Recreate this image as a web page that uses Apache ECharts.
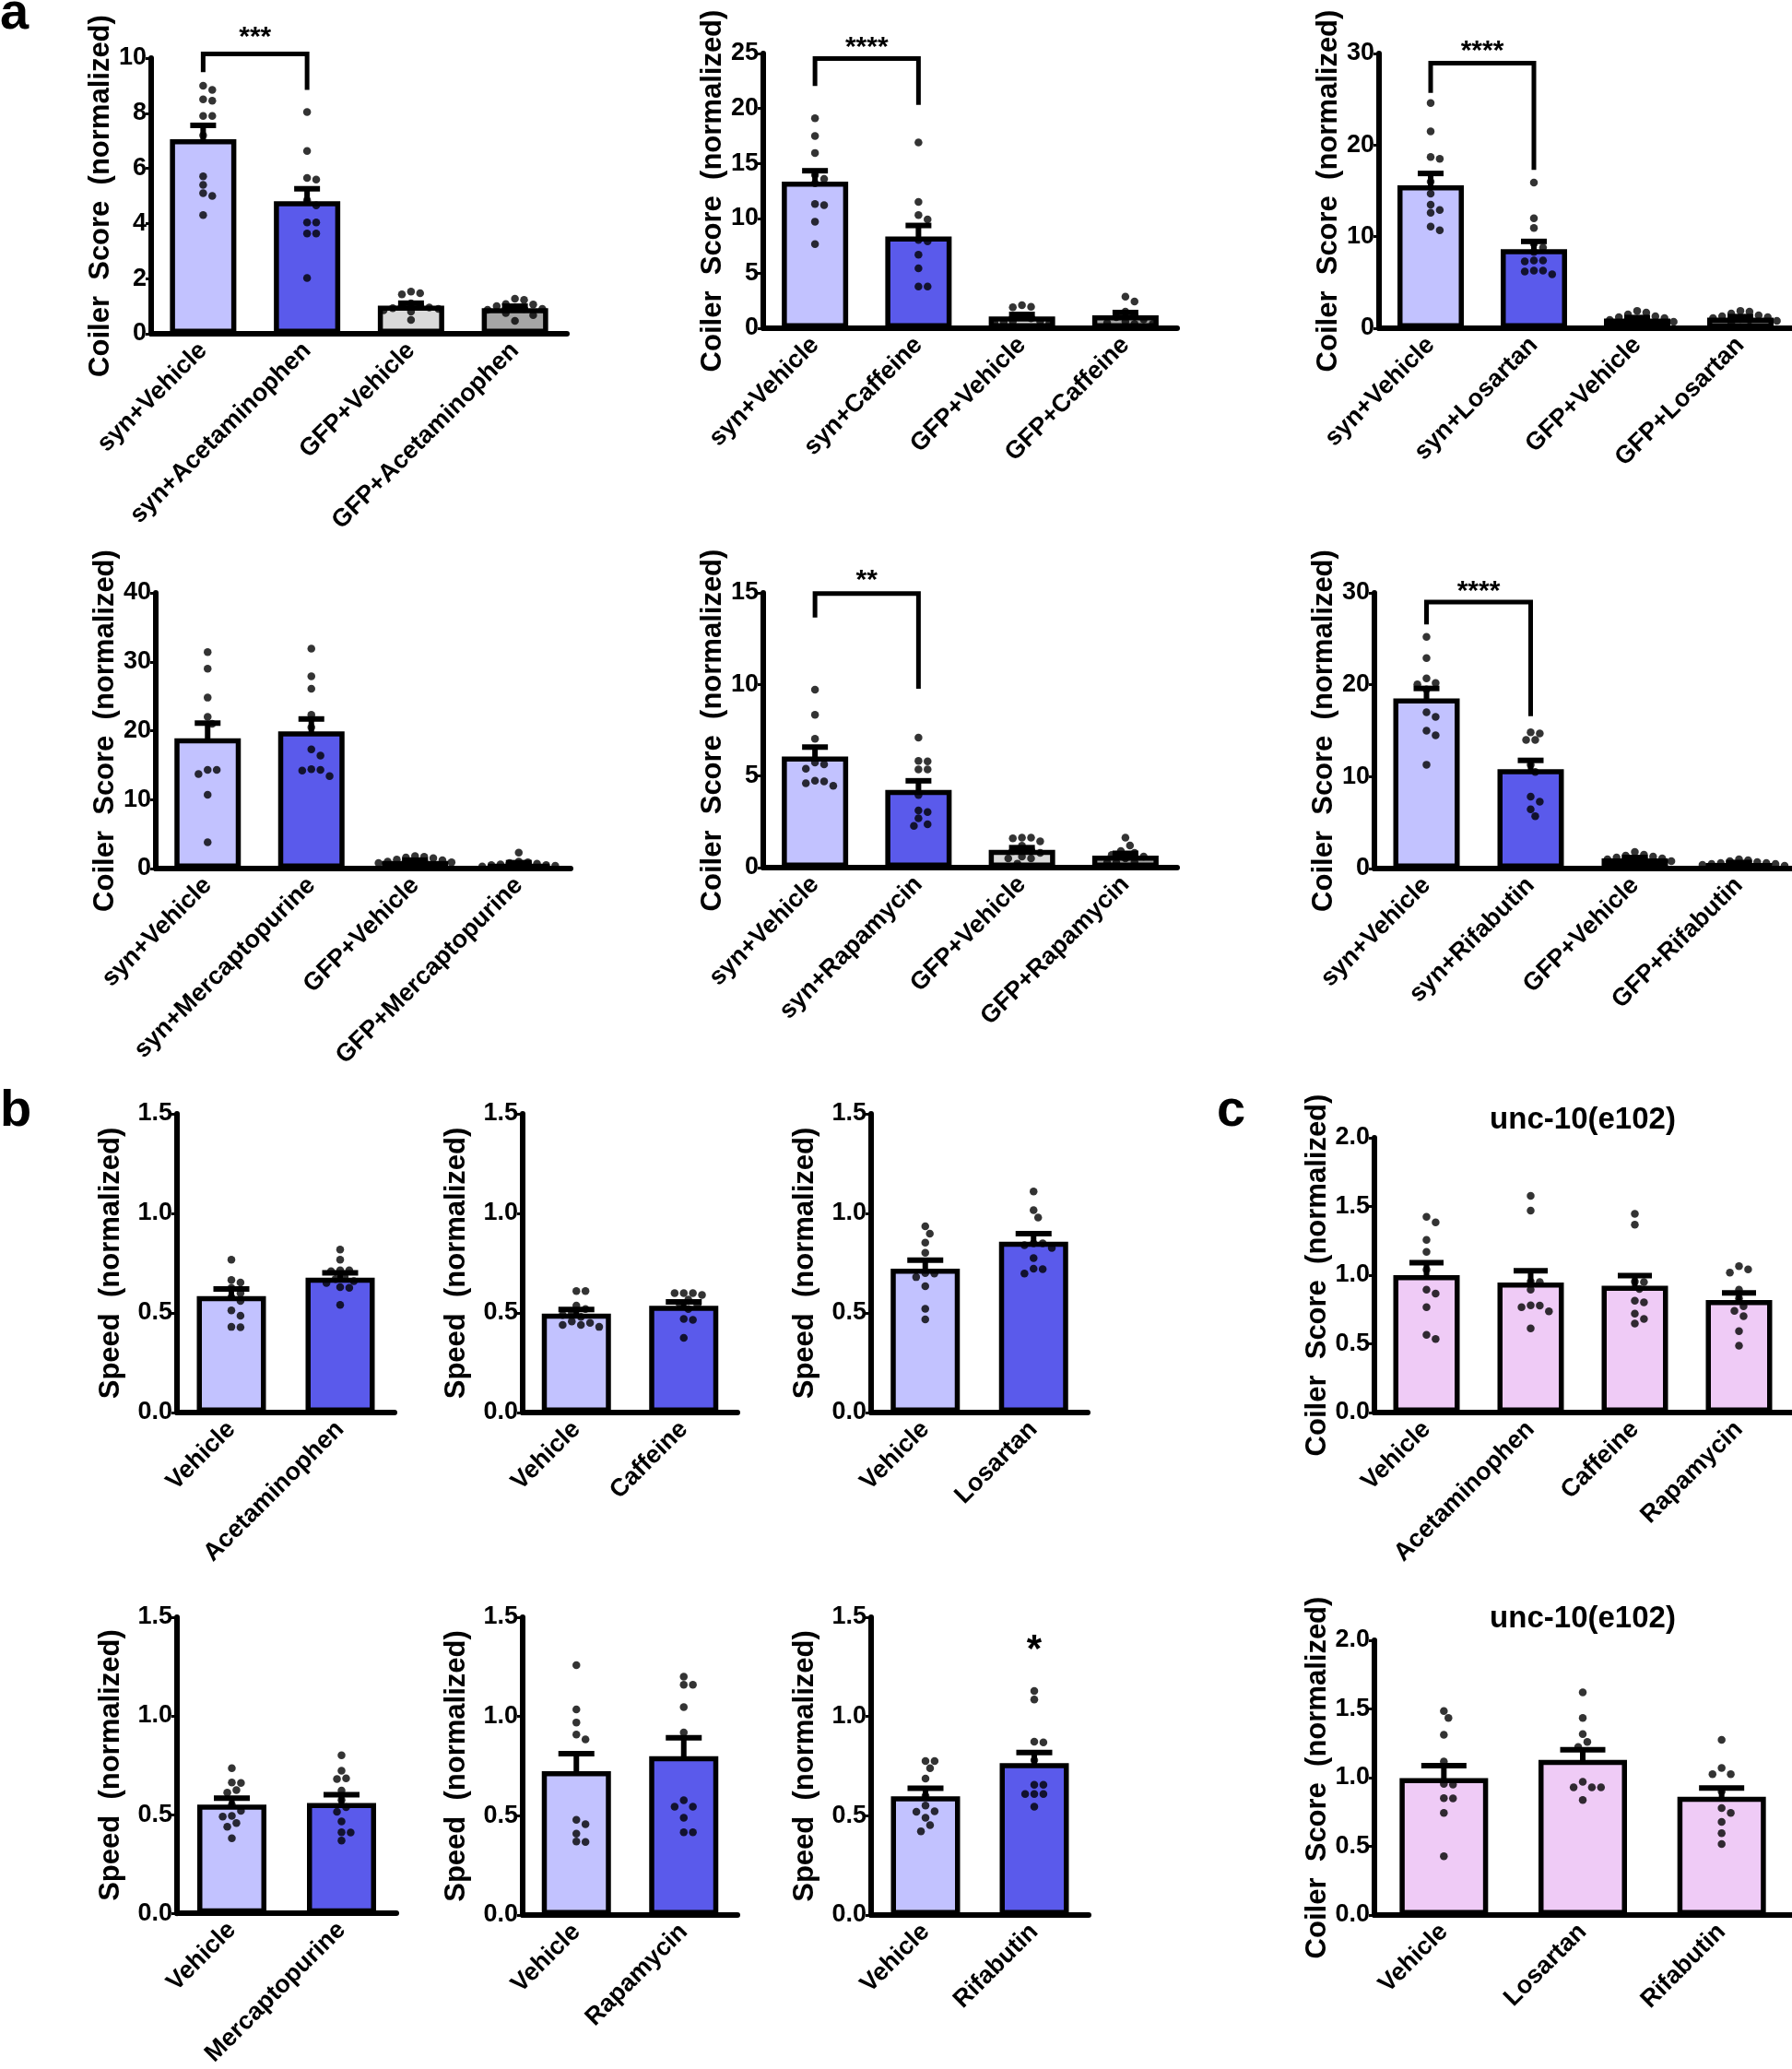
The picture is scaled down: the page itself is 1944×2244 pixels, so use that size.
<!DOCTYPE html>
<html>
<head>
<meta charset="utf-8">
<script src="https://cdn.jsdelivr.net/npm/echarts@6/dist/echarts.min.js"></script>
<style>html,body{margin:0;padding:0;background:#fff}#c{width:1944px;height:2244px}</style>
</head>
<body>
<div id="c"></div>
<script>
// ---------------- DATA ----------------
const catsA1 = ['syn+Vehicle','syn+Acetaminophen','GFP+Vehicle','GFP+Acetaminophen'];
const meanA1 = [7.06, 4.81, 1.02, 0.93];
const semA1  = [0.5, 0.45, 0.09, 0.07];
const ptsA1 = [
  [9.0, 8.85, 8.5, 8.45, 7.9, 7.9, 7.2, 5.71, 5.4, 5.1, 5.0, 4.31],
  [8.04, 6.63, 5.65, 5.59, 4.84, 4.66, 4.04, 4.04, 3.64, 3.64, 2.02],
  [1.53, 1.47, 1.43, 1.1, 1.05, 1.0, 0.95, 0.93, 0.9, 0.85, 0.8, 0.5],
  [1.27, 1.23, 1.08, 1.06, 1.0, 0.95, 0.9, 0.9, 0.87, 0.75, 0.68, 0.47]
];
const sigA1 = {top: 10.15, left: 9.49, right: 8.85, label: '***', labelY: 10.75};

const catsA2 = ['syn+Vehicle','syn+Caffeine','GFP+Vehicle','GFP+Caffeine'];
const meanA2 = [13.33, 8.35, 1.06, 1.18];
const semA2  = [1.0, 1.0, 0.2, 0.25];
const ptsA2 = [
  [19.1, 17.5, 15.95, 13.95, 13.6, 13.2, 11.3, 11.2, 9.7, 7.66],
  [16.9, 11.5, 10.3, 9.9, 8.04, 7.9, 6.7, 5.45, 3.8, 3.8],
  [2.1, 1.96, 1.9, 1.1, 0.9, 0.6, 0.55, 0.5, 0.5, 0.6],
  [2.87, 2.43, 1.5, 1.2, 1.0, 0.8, 0.6, 0.5, 0.4, 0.4]
];
const sigA2 = {top: 24.53, left: 22.04, right: 20.33, label: '****', labelY: 25.5};

const catsA3 = ['syn+Vehicle','syn+Losartan','GFP+Vehicle','GFP+Losartan'];
const meanA3 = [15.6, 8.63, 1.05, 1.15];
const semA3  = [1.3, 0.85, 0.12, 0.12];
const ptsA3 = [
  [24.6, 21.5, 18.7, 18.5, 16.0, 14.7, 13.5, 12.9, 12.6, 11.1, 10.7],
  [15.9, 12.0, 10.95, 9.2, 8.8, 8.33, 7.4, 7.4, 7.3, 6.3, 6.3, 6.2, 5.9],
  [1.9, 1.7, 1.5, 1.3, 1.2, 1.1, 1.0, 0.9, 0.8, 0.7, 0.5],
  [1.9, 1.8, 1.6, 1.4, 1.3, 1.2, 1.1, 1.0, 0.9, 0.8, 0.6]
];
const sigA3 = {top: 28.95, left: 25.7, right: 17.3, label: '****', labelY: 30.2};

const catsA4 = ['syn+Vehicle','syn+Mercaptopurine','GFP+Vehicle','GFP+Mercaptopurine'];
const meanA4 = [18.9, 19.9, 1.1, 0.7];
const semA4  = [2.2, 1.8, 0.12, 0.15];
const ptsA4 = [
  [31.4, 29.0, 24.8, 22.0, 21.0, 14.3, 14.3, 13.7, 10.7, 3.8],
  [31.9, 27.9, 26.1, 22.3, 20.5, 17.3, 16.4, 14.4, 14.3, 14.2, 13.4],
  [1.8, 1.7, 1.6, 1.5, 1.3, 1.2, 1.0, 0.9, 0.8, 0.7],
  [2.3, 1.0, 0.9, 0.8, 0.7, 0.6, 0.5, 0.5, 0.4, 0.3]
];

const catsA5 = ['syn+Vehicle','syn+Rapamycin','GFP+Vehicle','GFP+Rapamycin'];
const meanA5 = [6.06, 4.24, 0.97, 0.65];
const semA5  = [0.52, 0.5, 0.12, 0.13];
const ptsA5 = [
  [9.72, 8.34, 7.03, 5.74, 5.64, 5.4, 4.75, 4.71, 4.6, 4.47],
  [7.1, 5.83, 5.8, 5.36, 5.36, 3.96, 3.12, 3.03, 2.69, 2.37, 2.28],
  [1.63, 1.63, 1.6, 1.44, 1.2, 1.0, 0.9, 0.8, 0.6, 0.5, 0.5, 0.22],
  [1.63, 1.21, 0.9, 0.8, 0.69, 0.6, 0.5, 0.3, 0.28, 0.28]
];
const sigA5 = {top: 14.96, left: 13.65, right: 9.76, label: '**', labelY: 15.65};

const catsA6 = ['syn+Vehicle','syn+Rifabutin','GFP+Vehicle','GFP+Rifabutin'];
const meanA6 = [18.5, 10.8, 1.1, 0.6];
const semA6  = [1.1, 0.97, 0.1, 0.06];
const ptsA6 = [
  [25.2, 22.9, 20.7, 20.2, 20.05, 19.5, 17.0, 16.5, 15.0, 14.5, 11.3],
  [14.83, 14.7, 14.0, 14.0, 11.3, 10.5, 7.83, 7.27, 6.45, 5.7],
  [1.8, 1.5, 1.4, 1.3, 1.2, 1.1, 1.0, 0.9, 0.8, 0.6],
  [1.0, 0.9, 0.8, 0.7, 0.6, 0.6, 0.5, 0.5, 0.4, 0.3]
];
const sigA6 = {top: 29.0, left: 26.57, right: 16.59, label: '****', labelY: 30.1};

const catsB1 = ['Vehicle','Acetaminophen'];
const meanB1 = [0.585, 0.677];
const semB1  = [0.035, 0.024];
const ptsB1 = [
  [0.767, 0.666, 0.653, 0.626, 0.6, 0.58, 0.56, 0.513, 0.486, 0.43, 0.428],
  [0.818, 0.767, 0.714, 0.714, 0.71, 0.68, 0.67, 0.66, 0.65, 0.63, 0.626, 0.54]
];
const catsB2 = ['Vehicle','Caffeine'];
const meanB2 = [0.497, 0.536];
const semB2  = [0.02, 0.02];
const ptsB2 = [
  [0.61, 0.61, 0.537, 0.52, 0.5, 0.49, 0.48, 0.457, 0.45, 0.44, 0.44, 0.43],
  [0.6, 0.6, 0.6, 0.59, 0.567, 0.55, 0.54, 0.52, 0.47, 0.465, 0.375]
];
const catsB3 = ['Vehicle','Losartan'];
const meanB3 = [0.722, 0.858];
const semB3  = [0.043, 0.04];
const ptsB3 = [
  [0.935, 0.898, 0.853, 0.802, 0.7, 0.698, 0.68, 0.634, 0.521, 0.468],
  [1.11, 1.016, 0.979, 0.85, 0.85, 0.84, 0.826, 0.775, 0.722, 0.72, 0.698]
];
const catsB4 = ['Vehicle','Mercaptopurine'];
const meanB4 = [0.551, 0.559];
const semB4  = [0.032, 0.042];
const ptsB4 = [
  [0.735, 0.663, 0.66, 0.624, 0.611, 0.55, 0.519, 0.493, 0.49, 0.457, 0.438, 0.38],
  [0.8, 0.722, 0.684, 0.68, 0.622, 0.574, 0.538, 0.514, 0.465, 0.41, 0.409, 0.368]
];
const catsB5 = ['Vehicle','Rapamycin'];
const meanB5 = [0.724, 0.8];
const semB5  = [0.089, 0.093];
const ptsB5 = [
  [1.258, 1.036, 0.97, 0.909, 0.885, 0.48, 0.457, 0.41, 0.37, 0.368],
  [1.2, 1.16, 1.16, 1.047, 0.92, 0.578, 0.546, 0.546, 0.49, 0.417, 0.417]
];
const catsB6 = ['Vehicle','Rifabutin'];
const meanB6 = [0.598, 0.765];
const semB6  = [0.04, 0.054];
const ptsB6 = [
  [0.776, 0.776, 0.74, 0.687, 0.6, 0.552, 0.522, 0.52, 0.49, 0.453, 0.422],
  [1.128, 1.085, 0.873, 0.87, 0.78, 0.656, 0.656, 0.61, 0.61, 0.61, 0.546]
];
const starB6 = {cat: 1, y: 1.33, label: '*'};

const catsC1 = ['Vehicle','Acetaminophen','Caffeine','Rapamycin'];
const meanC1 = [1.0, 0.947, 0.923, 0.819];
const semC1  = [0.09, 0.085, 0.073, 0.052];
const ptsC1 = [
  [1.425, 1.384, 1.256, 1.17, 1.04, 0.895, 0.865, 0.767, 0.565, 0.535],
  [1.577, 1.47, 0.953, 0.95, 0.895, 0.78, 0.779, 0.767, 0.737, 0.612],
  [1.447, 1.367, 0.953, 0.95, 0.9, 0.814, 0.802, 0.72, 0.681, 0.647],
  [1.065, 1.042, 1.019, 0.895, 0.83, 0.774, 0.74, 0.702, 0.593, 0.486]
];
const catsC2 = ['Vehicle','Losartan','Rifabutin'];
const meanC2 = [0.997, 1.13, 0.861];
const semC2  = [0.09, 0.073, 0.063];
const ptsC2 = [
  [1.485, 1.434, 1.312, 1.118, 0.954, 0.95, 0.85, 0.849, 0.744, 0.428],
  [1.621, 1.434, 1.317, 1.26, 1.223, 0.97, 0.93, 0.93, 0.93, 0.837],
  [1.275, 1.071, 1.025, 1.025, 0.9, 0.779, 0.744, 0.678, 0.596, 0.517]
];

const titleC = 'unc-10(e102)';
const yNameCoiler = 'Coiler  Score  (normalized)';
const yNameSpeed = 'Speed  (normalized)';

// ---------------- STYLE / LAYOUT ----------------
const FONT = "'Liberation Sans', Arial, Helvetica, sans-serif";
const colA = ['#C2C2FF', '#5A5AEB', '#D9D9D9', '#A6A6A6'];
const colB = ['#C2C2FF', '#5A5AEB'];
const colC = ['#EFCBF6', '#EFCBF6', '#EFCBF6', '#EFCBF6'];

const panels = [
  {cats:catsA1, mean:meanA1, sem:semA1, pts:ptsA1, sig:sigA1, max:10, iv:2, dec:0, L:164, T:63, W:451, H:299, col:colA, bw:72, cap:28, yn:yNameCoiler, ng:36},
  {cats:catsA2, mean:meanA2, sem:semA2, pts:ptsA2, sig:sigA2, max:25, iv:5, dec:0, L:828, T:58, W:449, H:298, col:colA, bw:72, cap:28, yn:yNameCoiler, ng:36},
  {cats:catsA3, mean:meanA3, sem:semA3, pts:ptsA3, sig:sigA3, max:30, iv:10, dec:0, L:1496, T:58, W:448, H:298, col:colA, bw:72, cap:28, yn:yNameCoiler, ng:36},
  {cats:catsA4, mean:meanA4, sem:semA4, pts:ptsA4, max:40, iv:10, dec:0, L:169, T:643, W:450, H:299, col:colA, bw:72, cap:28, yn:yNameCoiler, ng:36},
  {cats:catsA5, mean:meanA5, sem:semA5, pts:ptsA5, sig:sigA5, max:15, iv:5, dec:0, L:828, T:643, W:449, H:298, col:colA, bw:72, cap:28, yn:yNameCoiler, ng:36},
  {cats:catsA6, mean:meanA6, sem:semA6, pts:ptsA6, sig:sigA6, max:30, iv:10, dec:0, L:1491, T:643, W:452, H:299, col:colA, bw:72, cap:28, yn:yNameCoiler, ng:36},
  {cats:catsB1, mean:meanB1, sem:semB1, pts:ptsB1, max:1.5, iv:0.5, dec:1, L:192, T:1208, W:236, H:324, col:colB, bw:75, cap:39, yn:yNameSpeed, ng:56},
  {cats:catsB2, mean:meanB2, sem:semB2, pts:ptsB2, max:1.5, iv:0.5, dec:1, L:567, T:1208, W:233, H:324, col:colB, bw:75, cap:39, yn:yNameSpeed, ng:56},
  {cats:catsB3, mean:meanB3, sem:semB3, pts:ptsB3, max:1.5, iv:0.5, dec:1, L:945, T:1208, W:235, H:324, col:colB, bw:75, cap:39, yn:yNameSpeed, ng:56},
  {cats:catsC1, mean:meanC1, sem:semC1, pts:ptsC1, max:2.0, iv:0.5, dec:1, L:1491, T:1234, W:452, H:298, col:colC, bw:72, cap:37, yn:yNameCoiler, ng:44},
  {cats:catsB4, mean:meanB4, sem:semB4, pts:ptsB4, max:1.5, iv:0.5, dec:1, L:192, T:1754, W:238, H:323, col:colB, bw:75, cap:39, yn:yNameSpeed, ng:56},
  {cats:catsB5, mean:meanB5, sem:semB5, pts:ptsB5, max:1.5, iv:0.5, dec:1, L:567, T:1754, W:233, H:323, col:colB, bw:75, cap:39, yn:yNameSpeed, ng:56},
  {cats:catsB6, mean:meanB6, sem:semB6, pts:ptsB6, star:starB6, max:1.5, iv:0.5, dec:1, L:945, T:1754, W:236, H:323, col:colB, bw:75, cap:39, yn:yNameSpeed, ng:56},
  {cats:catsC2, mean:meanC2, sem:semC2, pts:ptsC2, max:2.0, iv:0.5, dec:1, L:1491, T:1779, W:452, H:298, col:colC, bw:96, cap:49, yn:yNameCoiler, ng:44}
];

// simple beeswarm layout (pixel offsets) so dots do not overlap
function swarm(vals, pxPerUnit, d) {
  const order = vals.map((v, i) => i).sort((a, b) => vals[b] - vals[a]);
  const placed = [];
  const off = new Array(vals.length).fill(0);
  order.forEach(i => {
    const y = vals[i] * pxPerUnit;
    for (let k = 0; k < 40; k++) {
      const dx = k === 0 ? 0 : (k % 2 ? 1 : -1) * Math.ceil(k / 2) * d * 0.55;
      const hit = placed.some(p => (p[0] - dx) ** 2 + (p[1] - y) ** 2 < d * d * 0.9);
      if (!hit) { off[i] = dx; placed.push([dx, y]); break; }
    }
  });
  return off;
}

const grids = [], xAxes = [], yAxes = [], series = [];
panels.forEach((p, i) => {
  grids.push({left: p.L, top: p.T, width: p.W, height: p.H});
  xAxes.push({
    type: 'category', gridIndex: i, data: p.cats,
    axisLine: {lineStyle: {color: '#000', width: 6}},
    axisTick: {alignWithLabel: true, length: 6, lineStyle: {color: '#000', width: 3}},
    axisLabel: {rotate: 45, interval: 0, margin: 14, color: '#000', fontSize: 27, fontWeight: 'bold', fontFamily: FONT},
    splitLine: {show: false}
  });
  yAxes.push({
    type: 'value', gridIndex: i, min: 0, max: p.max, interval: p.iv,
    name: p.yn, nameLocation: 'middle', nameGap: p.ng,
    nameTextStyle: {color: '#000', fontSize: 31, fontWeight: 'bold', fontFamily: FONT},
    axisLine: {show: true, lineStyle: {color: '#000', width: 6}},
    axisTick: {show: true, length: 6, lineStyle: {color: '#000', width: 3}},
    axisLabel: {margin: 5, color: '#000', fontSize: 27, fontWeight: 'bold', fontFamily: FONT,
      formatter: v => Number(v).toFixed(p.dec)},
    splitLine: {show: false}
  });
  series.push({
    type: 'bar', xAxisIndex: i, yAxisIndex: i, barWidth: p.bw, silent: true,
    itemStyle: {borderColor: '#000', borderWidth: 5.5},
    data: p.mean.map((v, j) => ({value: v, itemStyle: {color: p.col[j]}}))
  });
  const pxu = p.H / p.max;
  const sdata = [];
  p.pts.forEach((arr, j) => {
    const off = swarm(arr, pxu, 9);
    arr.forEach((v, k) => sdata.push({value: [j, v], symbolOffset: [off[k], 0]}));
  });
  series.push({
    type: 'scatter', xAxisIndex: i, yAxisIndex: i, symbol: 'circle', symbolSize: 8.5, silent: true,
    itemStyle: {color: '#000'}, data: sdata
  });
  const cap = p.cap;
  series.push({
    type: 'custom', xAxisIndex: i, yAxisIndex: i, silent: true,
    data: p.mean.map((m, j) => [j, m - p.sem[j], m + p.sem[j]]),
    encode: {x: 0, y: [1, 2]},
    renderItem: (params, api) => {
      const lo = api.coord([api.value(0), api.value(1)]);
      const hi = api.coord([api.value(0), api.value(2)]);
      const st = {stroke: '#000', lineWidth: 6};
      return {type: 'group', children: [
        {type: 'line', shape: {x1: lo[0], y1: lo[1], x2: hi[0], y2: hi[1]}, style: st},
        {type: 'line', shape: {x1: lo[0] - cap / 2, y1: lo[1], x2: lo[0] + cap / 2, y2: lo[1]}, style: st},
        {type: 'line', shape: {x1: hi[0] - cap / 2, y1: hi[1], x2: hi[0] + cap / 2, y2: hi[1]}, style: st}
      ]};
    }
  });
  if (p.sig) {
    const s = p.sig;
    series.push({
      type: 'custom', xAxisIndex: i, yAxisIndex: i, silent: true, clip: false,
      data: [[0, 1, s.top, s.left, s.right, s.labelY]],
      encode: {x: [0, 1], y: [2]},
      renderItem: (params, api) => {
        const tl = api.coord([api.value(0), api.value(2)]);
        const tr = api.coord([api.value(1), api.value(2)]);
        const bl = api.coord([api.value(0), api.value(3)]);
        const br = api.coord([api.value(1), api.value(4)]);
        const ly = api.coord([api.value(0), api.value(5)])[1];
        const lx = (tl[0] + tr[0]) / 2;
        return {type: 'group', children: [
          {type: 'polyline', shape: {points: [bl, tl, tr, br]}, style: {stroke: '#000', lineWidth: 5, fill: null}},
          {type: 'text', x: lx, y: ly, style: {text: s.label, fill: '#000', font: 'bold 30px ' + FONT, textAlign: 'center', textVerticalAlign: 'middle'}}
        ]};
      }
    });
  }
  if (p.star) {
    const s = p.star;
    series.push({
      type: 'custom', xAxisIndex: i, yAxisIndex: i, silent: true, clip: false,
      data: [[s.cat, s.y]],
      renderItem: (params, api) => {
        const c = api.coord([api.value(0), api.value(1)]);
        return {type: 'text', x: c[0], y: c[1], style: {text: s.label, fill: '#000', font: 'bold 42px ' + FONT, textAlign: 'center', textVerticalAlign: 'middle'}};
      }
    });
  }
});

const graphic = [
  {type: 'text', x: 0, y: 44, style: {text: 'a', fill: '#000', font: 'bold 56px ' + FONT, textAlign: 'left', textVerticalAlign: 'bottom'}},
  {type: 'text', x: 0, y: 1234, style: {text: 'b', fill: '#000', font: 'bold 56px ' + FONT, textAlign: 'left', textVerticalAlign: 'bottom'}},
  {type: 'text', x: 1320, y: 1234, style: {text: 'c', fill: '#000', font: 'bold 56px ' + FONT, textAlign: 'left', textVerticalAlign: 'bottom'}},
  {type: 'text', x: 1717, y: 1215, style: {text: titleC, fill: '#000', font: 'bold 33px ' + FONT, textAlign: 'center', textVerticalAlign: 'middle'}},
  {type: 'text', x: 1717, y: 1756, style: {text: titleC, fill: '#000', font: 'bold 33px ' + FONT, textAlign: 'center', textVerticalAlign: 'middle'}}
];

const chart = echarts.init(document.getElementById('c'), null, {renderer: 'canvas'});
chart.setOption({
  animation: false,
  backgroundColor: '#fff',
  grid: grids, xAxis: xAxes, yAxis: yAxes, series: series, graphic: graphic
});
</script>
</body>
</html>
